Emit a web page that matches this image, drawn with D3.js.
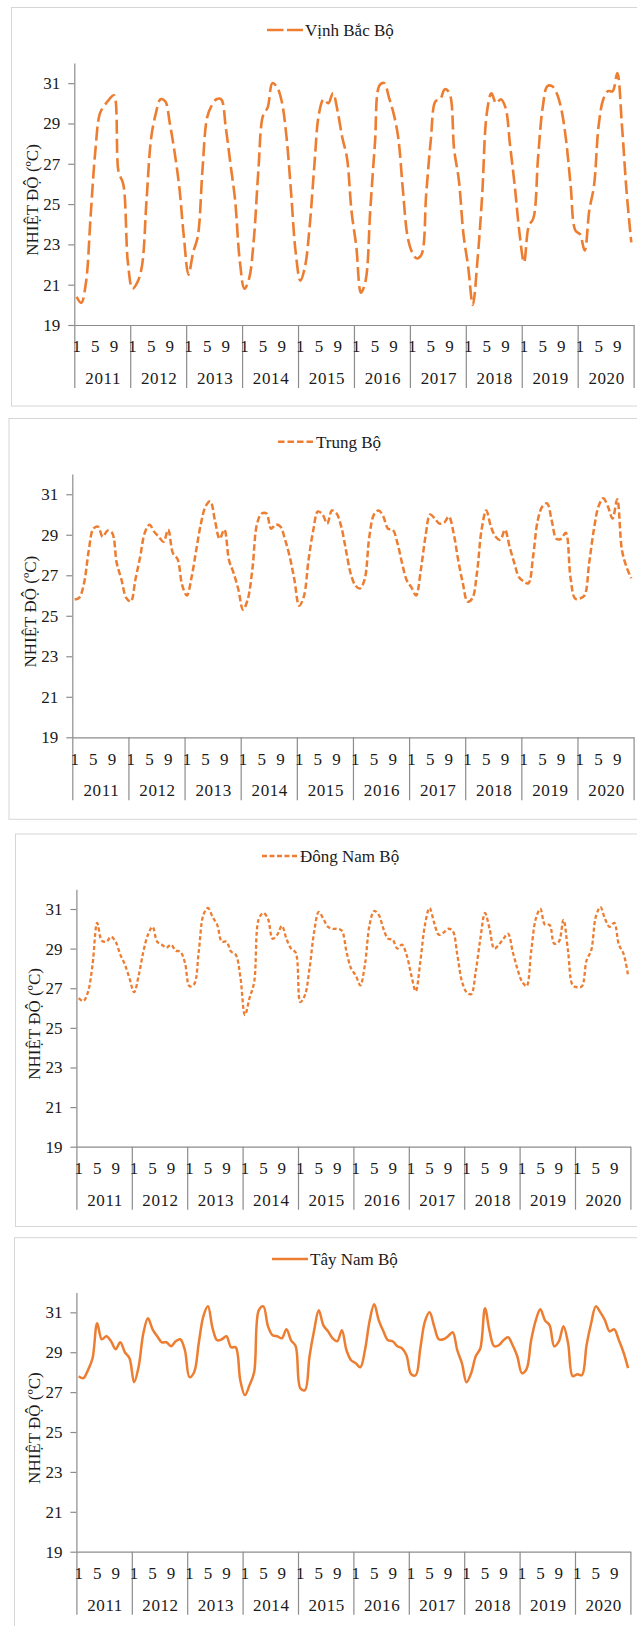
<!DOCTYPE html>
<html>
<head>
<meta charset="utf-8">
<script src="https://cdn.jsdelivr.net/npm/d3@7"></script>
<style>
  html, body { margin: 0; padding: 0; background: #fff; }
  svg { display: block; }
  svg text { font-family: "Liberation Serif", "Times New Roman", serif; fill: #1a1a1a; }
</style>
</head>
<body>
<svg id="chart" width="637" height="1626"></svg>
<script>
const years = [2011, 2012, 2013, 2014, 2015, 2016, 2017, 2018, 2019, 2020];
const monthTicks = [1, 5, 9];
const yTicks = [19, 21, 23, 25, 27, 29, 31];
const regionNames = ['Vịnh Bắc Bộ', 'Trung Bộ', 'Đông Nam Bộ', 'Tây Nam Bộ'];

// monthly mean temperature (ºC), Jan 2011 .. Dec 2020
const vinhBacBo = [
  20.4, 20.1, 21.1, 24.4, 27.6, 29.5, 29.9, 30.2, 30.4, 26.6, 26.0, 22.1,
  20.8, 21.1, 21.9, 25.2, 28.3, 29.5, 30.2, 30.1, 29.0, 27.6, 25.9, 23.4,
  21.5, 22.6, 23.4, 26.7, 29.3, 29.9, 30.2, 30.2, 28.8, 27.0, 25.2, 22.2,
  20.8, 21.3, 23.2, 26.7, 29.4, 29.8, 31.0, 30.8, 30.1, 28.4, 25.6, 22.6,
  21.2, 21.9, 23.9, 26.9, 29.5, 30.2, 30.0, 30.5, 29.6, 28.3, 27.3, 24.6,
  22.9, 20.6, 21.2, 24.7, 28.0, 30.9, 31.0, 30.3, 29.5, 28.3, 25.7, 23.4,
  22.6, 22.3, 22.5, 25.5, 28.2, 30.1, 30.2, 30.7, 30.5, 27.7, 26.2, 23.5,
  21.9, 20.0, 22.2, 25.4, 29.5, 30.5, 30.0, 30.2, 29.8, 27.9, 25.9, 23.6,
  22.1, 23.9, 24.3, 27.3, 29.8, 30.85, 30.85, 30.5, 29.7, 28.2, 25.9, 23.7,
  23.5, 22.7, 24.7, 25.9, 28.9, 30.2, 30.6, 30.6, 31.5, 28.9, 25.6, 23.1
];
const trungBo = [
  25.8, 25.9, 26.6, 28.2, 29.3, 29.4, 28.9, 29.2, 29.1, 27.6, 26.8, 25.9,
  25.7, 26.8, 27.9, 29.1, 29.5, 29.15, 28.9, 28.65, 29.25, 28.1, 27.8, 26.5,
  26.0, 26.9, 28.25, 29.55, 30.4, 30.65, 29.7, 28.8, 29.25, 27.75, 27.1, 26.3,
  25.3, 25.8, 27.3, 29.55, 30.05, 30.05, 29.3, 29.5, 29.4, 28.75, 27.9, 26.75,
  25.5, 25.95, 27.75, 29.2, 30.15, 30.0, 29.55, 30.2, 30.05, 29.4, 28.25, 27.1,
  26.5, 26.35, 26.8, 28.9, 30.0, 30.2, 29.9, 29.3, 29.25, 28.6, 27.6, 26.75,
  26.4, 26.0, 27.25, 28.9, 30.0, 29.8, 29.55, 29.6, 29.9, 29.1, 27.75, 26.6,
  25.7, 25.85, 27.1, 29.25, 30.2, 29.4, 28.9, 28.75, 29.25, 28.4, 27.6, 26.9,
  26.7, 26.6, 27.9, 29.7, 30.4, 30.55, 29.7, 28.8, 28.8, 29.1, 26.9, 25.85,
  25.85, 26.0, 27.6, 29.25, 30.4, 30.8, 30.4, 29.8, 30.75, 28.25, 27.4, 26.85
];
const dongNamBo = [
  26.5, 26.35, 26.8, 28.2, 30.3, 29.4, 29.35, 29.6, 29.35, 28.7, 28.2, 27.5,
  26.8, 27.65, 28.85, 29.7, 30.1, 29.35, 29.2, 29.05, 29.2, 28.9, 28.85, 28.3,
  27.1, 27.2, 28.85, 30.7, 31.05, 30.6, 30.2, 29.35, 29.35, 28.85, 28.7, 27.6,
  25.65, 26.5, 27.3, 30.5, 30.8, 30.5, 29.5, 29.7, 30.15, 29.5, 29.0, 28.8,
  26.3, 26.65, 28.0, 29.85, 30.85, 30.5, 30.1, 30.0, 30.0, 29.9, 28.85, 28.0,
  27.65, 27.15, 28.2, 30.2, 30.9, 30.7, 30.0, 29.5, 29.45, 29.0, 29.2, 28.7,
  27.7, 26.85, 28.35, 30.2, 31.05, 30.3, 29.7, 29.8, 30.0, 29.9, 28.7, 27.35,
  26.8, 26.7, 27.85, 29.5, 30.8, 30.0, 29.0, 29.2, 29.5, 29.75, 28.85, 28.0,
  27.35, 27.1, 28.85, 30.5, 31.0, 30.2, 30.2, 29.25, 29.35, 30.45, 28.85, 27.15,
  27.05, 27.1, 28.4, 28.9, 30.6, 31.1, 30.5, 30.1, 30.3, 29.2, 28.75, 27.65
];
const tayNamBo = [
  27.8, 27.7, 28.1, 28.7, 30.45, 29.65, 29.8, 29.55, 29.15, 29.5, 29.0, 28.7,
  27.5, 28.3, 29.95, 30.7, 30.15, 29.8, 29.5, 29.5, 29.3, 29.55, 29.65, 29.1,
  27.75, 28.0, 29.45, 30.8, 31.3, 30.2, 29.6, 29.65, 29.8, 29.25, 29.25, 27.6,
  26.85, 27.35, 28.0, 31.1, 31.3, 30.3, 29.85, 29.8, 29.7, 30.15, 29.6, 29.3,
  27.2, 27.1, 28.8, 30.1, 31.1, 30.35, 30.05, 29.7, 29.55, 30.1, 29.1, 28.6,
  28.45, 28.25, 29.1, 30.55, 31.4, 30.6, 30.05, 29.6, 29.55, 29.3, 29.2, 28.85,
  27.9, 27.85, 29.2, 30.55, 31.0, 30.3, 29.65, 29.65, 29.8, 30.0, 29.1, 28.45,
  27.5, 27.95, 28.8, 29.2, 31.2, 30.05, 29.3, 29.35, 29.6, 29.75, 29.35, 28.8,
  27.95, 28.15, 29.6, 30.6, 31.15, 30.6, 30.35, 29.3, 29.55, 30.3, 29.45, 27.8,
  27.9, 27.85, 29.35, 30.45, 31.3, 31.0, 30.6, 30.05, 30.15, 29.6, 29.0, 28.2
];
const seriesList = [vinhBacBo, trungBo, dongNamBo, tayNamBo];

const lineColor = '#ed7d31';
const axisColor = '#8c8c8c';
const frameColor = '#d6d6d6';
const fontFamily = '"Liberation Serif", "Times New Roman", serif';
const fontSize = 17;

// layout of each Excel chart box (pixels)
const panels = [
  { frame: [11.5, 7.5, 640, 398.5], x0: 74.3, x1: 633.6, yBottom: 325, yTop: 63,
    legend: [267, 30], dash: '14,5', width: 2.6, legendDash: '16.5,3.5' },
  { frame: [9, 418.5, 640, 400.8], x0: 72.3, x1: 633.6, yBottom: 737.3, yTop: 474,
    legend: [278, 441.7], dash: '6.5,3', width: 2.5, legendDash: '6.5,3' },
  { frame: [15.5, 834, 640, 392.5], x0: 76.4, x1: 630.4, yBottom: 1146.7, yTop: 889.2,
    legend: [262, 856], dash: '4,2.5', width: 2.3, legendDash: '5,2.5' },
  { frame: [14.5, 1237.7, 640, 420], x0: 76.4, x1: 630.4, yBottom: 1551.7, yTop: 1292.4,
    legend: [272, 1259], dash: null, width: 2.5, legendDash: null },
];

const svg = d3.select('#chart');

const drawPanel = (panel, values, name) => {
  const g = svg.append('g');
  const [fx, fy, fw, fh] = panel.frame;
  g.append('rect')
    .attr('x', fx).attr('y', fy).attr('width', fw).attr('height', fh)
    .attr('fill', '#fff').attr('stroke', frameColor).attr('stroke-width', 1);

  const x = d3.scaleLinear().domain([0, values.length]).range([panel.x0, panel.x1]);
  const y = d3.scaleLinear().domain([19, 32]).range([panel.yBottom, panel.yTop]);

  // y axis
  const yAxis = g.append('g')
    .attr('transform', `translate(${panel.x0},0)`)
    .call(d3.axisLeft(y).tickValues(yTicks).tickSize(6).tickSizeOuter(0).tickPadding(8));
  yAxis.attr('font-family', null).attr('font-size', null);
  yAxis.select('.domain').attr('stroke', axisColor).attr('stroke-width', 1.2);
  yAxis.selectAll('.tick line').attr('stroke', axisColor).attr('stroke-width', 1.2);
  yAxis.selectAll('.tick text')
    .style('font-family', fontFamily)
    .attr('font-size', fontSize).attr('fill', '#1a1a1a');

  // x axis: year separators drawn as long ticks
  const xAxis = g.append('g')
    .attr('transform', `translate(0,${panel.yBottom})`)
    .call(d3.axisBottom(x).tickValues(d3.range(0, values.length + 1, 12))
      .tickSize(63).tickSizeOuter(0).tickFormat(''));
  xAxis.select('.domain').attr('stroke', axisColor).attr('stroke-width', 1.2);
  xAxis.selectAll('.tick line').attr('stroke', axisColor).attr('stroke-width', 1.2);

  const monthLabels = [];
  years.forEach((yr, i) => monthTicks.forEach((m) => monthLabels.push({ pos: i * 12 + m - 0.5, m })));
  g.append('g').selectAll('text')
    .data(monthLabels)
    .join('text')
    .attr('x', (d) => x(d.pos))
    .attr('y', panel.yBottom + 21.5)
    .attr('dy', '0.35em')
    .attr('text-anchor', 'middle')
    .attr('font-size', fontSize)
    .style('font-family', fontFamily)
    .text((d) => d.m);

  g.append('g').selectAll('text')
    .data(years)
    .join('text')
    .attr('x', (d, i) => x(i * 12 + 6) + 1)
    .attr('y', panel.yBottom + 53)
    .attr('dy', '0.35em')
    .attr('text-anchor', 'middle')
    .attr('font-size', fontSize)
    .attr('letter-spacing', 0.6)
    .style('font-family', fontFamily)
    .text((d) => d);

  // axis title
  const titleY = (panel.yTop + panel.yBottom) / 2 + 6;
  g.append('text')
    .attr('transform', `translate(${panel.x0 - 36.5},${titleY}) rotate(-90)`)
    .attr('text-anchor', 'middle')
    .attr('font-size', fontSize)
    .style('font-family', fontFamily)
    .text('NHIỆT ĐỘ (ºC)');

  // series
  const line = d3.line()
    .x((d, i) => x(i + 0.5))
    .y((d) => y(d))
    .curve(d3.curveCatmullRom.alpha(0.5));
  g.append('path')
    .datum(values)
    .attr('d', line)
    .attr('fill', 'none')
    .attr('stroke', lineColor)
    .attr('stroke-width', panel.width)
    .attr('stroke-dasharray', panel.dash)
    .attr('stroke-linecap', 'butt');

  // legend
  const [lx, ly] = panel.legend;
  g.append('line')
    .attr('x1', lx).attr('x2', lx + 36)
    .attr('y1', ly).attr('y2', ly)
    .attr('stroke', lineColor)
    .attr('stroke-width', panel.width)
    .attr('stroke-dasharray', panel.legendDash);
  g.append('text')
    .attr('x', lx + 38)
    .attr('y', ly)
    .attr('dy', '0.35em')
    .attr('font-size', fontSize)
    .style('font-family', fontFamily)
    .text(name);
};

panels.forEach((panel, i) => drawPanel(panel, seriesList[i], regionNames[i]));
</script>
</body>
</html>
